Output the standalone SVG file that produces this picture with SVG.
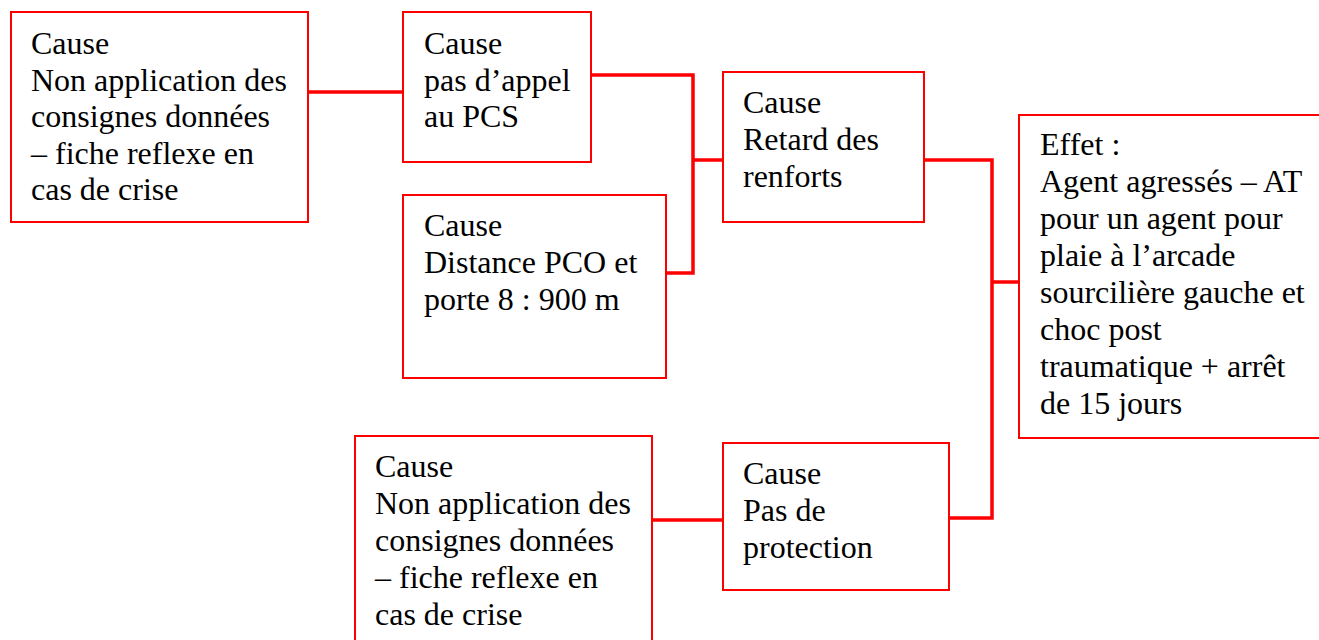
<svg xmlns="http://www.w3.org/2000/svg" width="1319" height="640" viewBox="0 0 1319 640">
<style>
.box{fill:#fff;stroke:#ff0000;stroke-width:2}
.t{font-family:'Liberation Serif','Times New Roman',serif;font-size:32px;fill:#000}
.c{fill:none;stroke:#ff0000;stroke-width:3.5}
</style>
<rect width="1319" height="640" fill="#fff"/>
<g id="connectors">
<path class="c" d="M308,92 H403"/>
<path class="c" d="M591,75 H693 V273 H666"/>
<path class="c" d="M693,160 H723"/>
<path class="c" d="M924,160 H992 V518 H947"/>
<path class="c" d="M992,282 H1019"/>
<path class="c" d="M652,520 H723"/>
</g>
<g id="n1">
<rect class="box" x="11" y="12" width="297" height="210"/>
<text class="t" x="31" y="54"><tspan x="31">Cause</tspan><tspan x="31" dy="36.6">Non application des</tspan><tspan x="31" dy="36.6">consignes données</tspan><tspan x="31" dy="36.6">– fiche reflexe en</tspan><tspan x="31" dy="36.6">cas de crise</tspan></text>
</g>
<g id="n2">
<rect class="box" x="403" y="12" width="188" height="150"/>
<text class="t" x="424" y="54"><tspan x="424">Cause</tspan><tspan x="424" dy="36.6">pas d’appel</tspan><tspan x="424" dy="36.6">au PCS</tspan></text>
</g>
<g id="n3">
<rect class="box" x="403" y="195" width="263" height="183"/>
<text class="t" x="424" y="236"><tspan x="424">Cause</tspan><tspan x="424" dy="37">Distance PCO et</tspan><tspan x="424" dy="37">porte 8 : 900 m</tspan></text>
</g>
<g id="n4">
<rect class="box" x="723" y="72" width="201" height="150"/>
<text class="t" x="743" y="113"><tspan x="743">Cause</tspan><tspan x="743" dy="37">Retard des</tspan><tspan x="743" dy="37">renforts</tspan></text>
</g>
<g id="n5">
<rect class="box" x="1019" y="115" width="310" height="323"/>
<text class="t" x="1040" y="155"><tspan x="1040">Effet :</tspan><tspan x="1040" dy="37">Agent agressés – AT</tspan><tspan x="1040" dy="37">pour un agent pour</tspan><tspan x="1040" dy="37">plaie à l’arcade</tspan><tspan x="1040" dy="37">sourcilière gauche et</tspan><tspan x="1040" dy="37">choc post</tspan><tspan x="1040" dy="37">traumatique + arrêt</tspan><tspan x="1040" dy="37">de 15 jours</tspan></text>
</g>
<g id="n6">
<rect class="box" x="355" y="436" width="297" height="220"/>
<text class="t" x="375" y="477"><tspan x="375">Cause</tspan><tspan x="375" dy="37">Non application des</tspan><tspan x="375" dy="37">consignes données</tspan><tspan x="375" dy="37">– fiche reflexe en</tspan><tspan x="375" dy="37">cas de crise</tspan></text>
</g>
<g id="n7">
<rect class="box" x="723" y="443" width="226" height="147"/>
<text class="t" x="743" y="484"><tspan x="743">Cause</tspan><tspan x="743" dy="37">Pas de</tspan><tspan x="743" dy="37">protection</tspan></text>
</g>
</svg>
